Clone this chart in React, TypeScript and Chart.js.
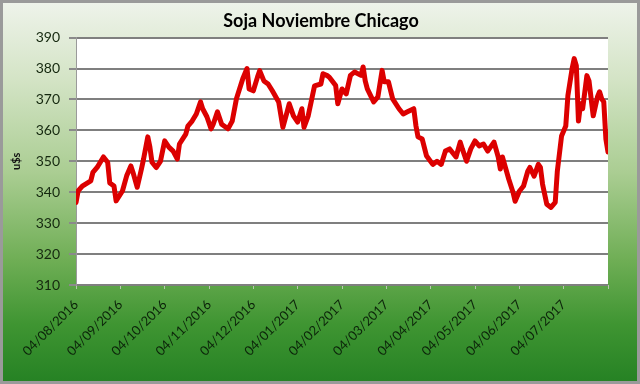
import React, { useEffect, useRef } from 'react';
import { Chart, registerables } from 'chart.js';

Chart.register(...registerables);

const TITLE = 'Soja Noviembre Chicago';
const Y_LABEL = 'u$s';
const MONTH_LABELS = [
  '04/08/2016', '04/09/2016', '04/10/2016', '04/11/2016', '04/12/2016', '04/01/2017',
  '04/02/2017', '04/03/2017', '04/04/2017', '04/05/2017', '04/06/2017', '04/07/2017',
];
const SESSIONS_PER_LABEL = 21;
const Y_MIN = 310;
const Y_MAX = 390;
const Y_STEP = 10;

// trading-session index since 04/08/2016
const SESSIONS = [
  0, 1, 3, 7, 8, 10, 13, 15, 16, 18, 19, 22, 24, 26, 27, 29, 31, 32, 34, 35,
  36, 38, 40, 42, 44, 46, 48, 49, 52, 53, 55, 57, 59, 60, 62, 64, 65, 67, 69, 72,
  74, 76, 79, 81, 82, 84, 86, 87, 89, 91, 93, 96, 98, 100, 101, 103, 105, 107, 108, 110,
  112, 113, 116, 117, 119, 120, 123, 124, 126, 128, 130, 132, 135, 136, 137, 138, 141, 143, 145, 146,
  148, 150, 153, 155, 157, 160, 161, 162, 164, 166, 169, 171, 173, 175, 177, 180, 182, 183, 185, 187,
  189, 191, 193, 195, 198, 200, 201, 202, 203, 205, 207, 208, 210, 212, 214, 215, 217, 219, 220, 221,
  223, 225, 227, 228, 230, 232, 233, 235, 236, 237, 238, 239, 240, 242, 243, 245, 247, 248, 249, 250,
  251, 252,
];
// u$s per tonelada
const PRICES = [
  336.7, 340.4, 342.0, 343.7, 346.4, 348.0, 351.4, 349.7, 343.0, 342.0, 337.2, 340.4, 345.3, 348.5, 346.4, 341.6, 347.5, 350.7, 357.9, 354.6,
  349.7, 348.0, 350.0, 356.6, 354.6, 353.3, 350.7, 355.6, 358.8, 361.4, 363.0, 365.3, 369.2, 367.0, 364.4, 360.5, 362.0, 366.0, 362.0, 360.5,
  363.0, 370.2, 376.7, 380.0, 373.4, 372.8, 377.3, 379.3, 376.0, 375.0, 372.8, 369.2, 361.0, 366.0, 368.6, 364.7, 362.7, 367.0, 361.0, 364.7,
  371.2, 374.4, 375.0, 378.3, 377.7, 377.2, 374.5, 368.6, 373.4, 371.8, 377.8, 378.9, 377.8, 380.5, 376.0, 373.4, 369.2, 370.8, 379.4, 375.7,
  375.7, 370.2, 367.0, 365.3, 366.0, 367.0, 361.6, 357.9, 357.2, 351.8, 349.0, 350.0, 349.0, 353.3, 354.0, 351.4, 356.2, 354.0, 350.0, 354.0,
  356.6, 355.0, 355.6, 353.3, 356.2, 351.4, 347.5, 351.4, 349.0, 344.2, 340.0, 337.1, 340.3, 342.0, 346.8, 348.0, 345.2, 349.0, 348.0, 342.6,
  336.1, 335.1, 336.7, 346.8, 358.2, 361.4, 371.2, 380.0, 383.2, 380.9, 363.0, 368.6, 367.0, 377.7, 376.0, 364.7, 370.8, 372.5, 370.2, 369.2,
  357.2, 353.0,
];

const plotBackground = {
  id: 'plotBackground',
  beforeDraw(chart: any) {
    const { ctx, chartArea: a } = chart;
    ctx.save();
    ctx.fillStyle = '#ffffff';
    ctx.fillRect(a.left, a.top, a.right - a.left, a.bottom - a.top);
    ctx.restore();
  },
};

export default function App() {
  const canvasRef = useRef<HTMLCanvasElement | null>(null);

  useEffect(() => {
    if (!canvasRef.current) return;
    const points = SESSIONS.map((s, i) => ({ x: s, y: PRICES[i] }));
    const chart = new Chart(canvasRef.current, {
      type: 'line',
      data: {
        datasets: [
          {
            label: 'Soja Noviembre',
            data: points,
            borderColor: '#dc0000',
            borderWidth: 5,
            pointRadius: 0,
            tension: 0,
            borderJoinStyle: 'round',
            borderCapStyle: 'round',
          },
        ],
      },
      options: {
        responsive: false,
        animation: false,
        layout: { padding: { left: 2, right: 0, top: 9, bottom: 0 } },
        plugins: {
          legend: { display: false },
          tooltip: { enabled: false },
          title: {
            display: true,
            text: TITLE,
            color: '#000000',
            font: { family: 'Lato', size: 18, weight: 'bold' },
            padding: { top: 1, bottom: 6 },
          },
        },
        scales: {
          x: {
            type: 'linear',
            min: 0,
            max: SESSIONS_PER_LABEL * MONTH_LABELS.length,
            afterFit(scale: any) {
              scale.height = 99;
            },
            ticks: {
              stepSize: SESSIONS_PER_LABEL,
              autoSkip: false,
              minRotation: 45,
              maxRotation: 45,
              padding: 8,
              color: '#0c240a',
              font: { family: 'Lato', size: 13 },
              callback: (v: any) => MONTH_LABELS[Math.round(Number(v) / SESSIONS_PER_LABEL)] ?? '',
            },
            grid: {
              drawOnChartArea: false,
              drawTicks: true,
              tickLength: 4,
              color: '#b8c8b0',
            },
            border: { display: false },
          },
          y: {
            position: 'left',
            min: Y_MIN,
            max: Y_MAX,
            afterFit(scale: any) {
              scale.width = 74;
            },
            ticks: {
              stepSize: Y_STEP,
              padding: 9,
              color: '#15280f',
              font: { family: 'Lato', size: 14 },
            },
            grid: {
              color: '#7f7f7f',
              lineWidth: 2,
              tickLength: 7,
              tickColor: '#8a8a8a',
              tickWidth: 2,
            },
            border: { display: true, color: '#9a9a9a', width: 1 },
            title: {
              display: true,
              text: Y_LABEL,
              color: '#111111',
              font: { family: 'Lato', size: 11, weight: 'bold' },
              padding: { top: 8, bottom: 0 },
            },
          },
          yRightSpace: {
            position: 'right',
            min: Y_MIN,
            max: Y_MAX,
            afterFit(scale: any) {
              scale.width = 32;
            },
            ticks: { display: false },
            grid: { drawOnChartArea: false, drawTicks: false },
            border: { display: false },
          },
        },
      },
      plugins: [plotBackground],
    });
    return () => chart.destroy();
  }, []);

  return (
    <div
      style={{
        position: 'absolute',
        left: 0,
        top: 0,
        width: 640,
        height: 384,
        boxSizing: 'border-box',
        border: '3px solid #9a9a9a',
        background:
          'linear-gradient(to bottom, #eef3ea 0%, #d4e4c6 20%, #aacd92 45%, #6fae55 68%, #3f9532 85%, #268224 100%)',
        overflow: 'hidden',
      }}
    >
      <canvas
        ref={canvasRef}
        width={640}
        height={384}
        style={{ position: 'absolute', left: -3, top: -3, width: 640, height: 384 }}
      />
    </div>
  );
}
